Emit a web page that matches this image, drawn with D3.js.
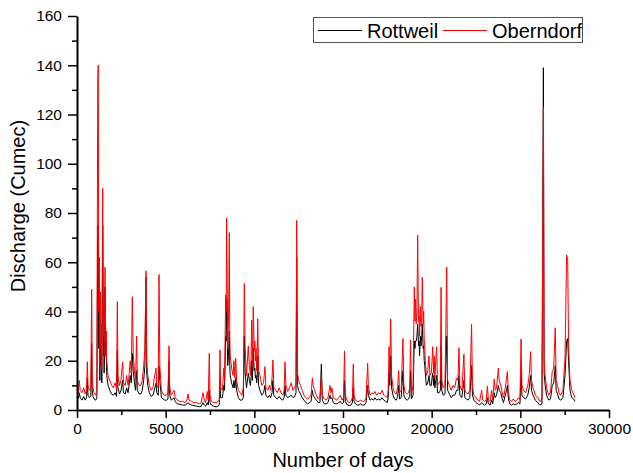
<!DOCTYPE html>
<html>
<head>
<meta charset="utf-8">
<title>Discharge</title>
<script src="https://cdn.jsdelivr.net/npm/d3@7"></script>
<style>
	body { margin: 0; background: #fff; }
	text { font-family: "Liberation Sans", Arial, sans-serif; fill: #000; }
	.axis path, .axis line { stroke: #000; }
</style>
</head>
<body>
<svg width="633" height="473"></svg>
<script>
// day index of each reading
var days = [
	0,60,130,180,280,380,460,540,583,620,
	700,780,827,860,900,960,1050,1120,1170,1200,
	1230,1290,1340,1400,1450,1490,1530,1580,1620,1680,
	1750,1850,1950,2050,2150,2230,2275,2310,2400,2480,
	2575,2620,2720,2800,2880,2935,3000,3060,3120,3170,
	3240,3300,3365,3400,3500,3600,3680,3760,3830,3890,
	3930,3990,4080,4180,4280,4360,4455,4500,4580,4625,
	4670,4760,4850,4950,5050,5130,5190,5230,5320,5470,
	5540,5650,5800,5950,6100,6200,6260,6320,6450,6600,
	6750,6900,7000,7100,7180,7250,7350,7400,7460,7500,
	7580,7700,7850,7950,8020,8065,8100,8200,8280,8320,
	8385,8440,8500,8590,8640,8720,8800,8850,8900,8950,
	9000,9100,9200,9300,9380,9435,9480,9560,9660,9720,
	9780,9850,9890,9940,9990,10060,10130,10190,10240,10320,
	10420,10520,10600,10650,10760,10850,10920,11000,11050,11100,
	11200,11300,11400,11500,11600,11680,11730,11780,11880,11980,
	12080,12180,12280,12350,12390,12430,12500,12600,12700,12800,
	12900,13000,13100,13200,13270,13320,13400,13500,13600,13700,
	13780,13830,13950,14050,14150,14270,14320,14380,14450,14550,
	14650,14750,14850,14950,15030,15085,15130,15250,15350,15450,
	15530,15580,15620,15700,15800,15900,16000,16100,16200,16300,
	16390,16430,16520,16620,16720,16800,16900,17000,17100,17200,
	17300,17400,17500,17550,17595,17640,17690,17740,17820,17900,
	18000,18080,18140,18190,18280,18380,18430,18520,18620,18700,
	18760,18810,18860,18950,19020,19060,19130,19210,19260,19320,
	19400,19470,19520,19580,19640,19700,19780,19850,19900,19980,
	20060,20110,20180,20280,20330,20420,20490,20530,20570,20650,
	20750,20850,20900,21000,21100,21200,21300,21400,21480,21540,
	21590,21700,21820,21870,21950,22050,22150,22250,22300,22380,
	22500,22600,22700,22820,22880,22980,23080,23140,23200,23300,
	23380,23440,23530,23580,23660,23760,23810,23900,23980,24050,
	24150,24220,24270,24320,24400,24500,24600,24700,24800,24900,
	24980,25040,25090,25180,25300,25420,25500,25580,25630,25720,
	25850,25980,26100,26220,26300,26340,26400,26480,26600,26700,
	26800,26880,26970,27020,27100,27180,27280,27400,27520,27610,
	27670,27720,27800,27900,28000,28080
];

// Rottweil discharge (black)
var rottweil = [
	5,4.5,7,5,4,5.5,4,5,13,6,
	5,5.5,27,8,5.5,4.5,4,5,75,64,
	25,12,18,11,75,22,15,50,22,14,
	10,8,6.5,6,7,5.5,24,9,6.5,8,
	12,7,6.5,9,7,10,14,11,23,16,
	11,8,16,8,6.5,6.5,8,12,18,54,
	15,10,7,5.5,6,8,11,7,6,18,
	12,5,4.5,4,4,4.5,20,6,4,5,
	3.5,2.5,2.3,2,2,2.5,3,2.5,2,1.8,
	1.5,1.3,1.5,3,2,1.5,3,2,8,3,
	2,1.5,1.3,1.5,2,10,5,5,10,8,
	30,45,18,32,14,11,9,12,9,13,
	8,5,4,4,5,30,15,9,15,12,
	10,20,12,25,16,13,11,22,10,8,
	6,7,10,6,5,6,5,7,12,6,
	5,4.5,5.5,4.5,4,5,10,6,5,5.5,
	6,5,5.5,7,62,10,8,6.5,5,4,
	3,2.5,3,3.5,8,6,5,4,3,3,
	18.7,4,2.5,2.5,3,6,4.5,5,3,2.5,
	2.5,3,3.5,2.5,3,12,3.5,2,1.8,2,
	3,9,3.5,2.5,2,2,2.5,2,2,3,
	10,6,4,4.5,4,5,4,4.5,4,5,
	4,3.5,3,5,15,10,22,9,6,4.5,
	4,5.5,10,4.5,5,16,6,4.5,4,4.5,
	5.5,16,4.5,6,28,25,28,35,26,22,
	26,35,25,20,15,10,11,14,10,10,
	15,10,9,14,7,7,8,26,8,6,
	6.5,30,8,6.5,5,6,6,8,8,14,
	6,5,12,5,4.5,4,5,18,6,4,
	3,2.5,2,3,2.5,2,2.5,5,2.5,2,
	4,2.5,7,5,6,10,8,7,4.5,3,
	6,8,10,5,2.5,2,2.5,2,2.5,3,
	2.5,16,6,5,4.5,6,9,14,8,6,
	4,3,2,2.5,139,15,10,6,4,4.5,
	10,11,18,8,6.5,4.5,4,5,14,28,
	29,20,8,5,4.5,3.5
];

// Oberndorf discharge (red)
var oberndorf = [
	8,7,12,8,7,9,6.5,8,19.6,10,
	8,9,49,14,9,7,6,8,135,140,
	40,18,25,16,90,30,22,58,28,20,
	14,12,10,9,11,8.5,44,14,10,12,
	19.5,11,10,14,10,14,20,15,46,23,
	16,12,30,12,10,10,12,18,25,56.5,
	20,14,10,8,9,13,17,10,9,55,
	18,8,6.5,6,6,7,26,9,6,8,
	5,4,3.5,3.5,3,4,6.5,4,3.5,3,
	3,2.5,3,7,4,3,7.5,4,23,6,
	3.5,3,3,3.5,4,24.4,9,8,17,12,
	46.7,78,25,72,22,17,14,20,13,21,
	12,8,7,6,9,51.4,25,14,26,18,
	14,36.5,18,42,24,20,16,37,16,14,
	10,11,17.6,9,8,10,8,13,20.3,9,
	8,7,9,7,6,8,19.5,10,7.5,9,
	11,8,9,11,77,15,12,10,8,6,
	5,4.5,5,6,13,10,8,6,4.5,5,
	14,6,4.5,4,5,10,7,9,5,4.5,
	4,5,6,4,5,24,6,3.5,3,3.5,
	5,18.7,6,4,3.5,3.5,4,3.5,3.5,5,
	19,10,6,7,6.5,7.5,6,7,6.5,8,
	6,5.5,5,8,25.7,15,37,14,9,7,
	6.5,9,16,7,8,29,10,7,6.5,7,
	9,28.4,7,10,50,36,35,71,36,30,
	34,54,35,28,20,14,16,22,14,15,
	25.7,15,13,25.7,10,11,12,49.8,12,9,
	10,58,12,10,8,10,9,13,12,25.3,
	10,8,22.7,8,7,6.5,8,34.8,10,6,
	5,4,3.5,8,4,3.5,4,9.7,4,3.5,
	8,4,12.6,8,9,17,12,10,7,5,
	9,13,15.6,8,4,3.5,4.5,3.5,4,5,
	4,28.8,10,8,7,10,14,23.7,12,9,
	6,5,3.5,4,123,20,14,9,6,7,
	15.6,17,33.4,12,10,7,6,8,21,63,
	61,27,12,8,6.5,5
];

// extra readings inside the busy wet spells
var extraDays      = [1260,1320,1370,1510,1550,1650, 8410,8470,8540,8615, 9820,9915,10030,10100,10160, 19090,19170,19240,19290,19360,19440,19550,19610, 20020,20140,20230];
var extraRottweil  = [40,30,24,30,25,22, 28,32,22,18, 14,18,17,14,13, 28,30,30,28,30,30,26,18, 13,14,12];
var extraOberndorf = [62,48,35,40,35,32, 40,50,35,30, 22,28,28,25,22, 45,40,48,38,42,38,40,26, 20,22,20];

var yMajor = [0, 20, 40, 60, 80, 100, 120, 140, 160];
var xMajor = [0, 5000, 10000, 15000, 20000, 25000, 30000];
var seriesNames = ["Rottweil", "Oberndorf"];
var seriesColors = ["#000000", "#ff0000"];

if (days.length !== rottweil.length || days.length !== oberndorf.length)
	console.error("length mismatch", days.length, rottweil.length, oberndorf.length);

function toPoints(dayList, vals, exDays, exVals) {
	var pts = dayList.map(function(d, k) { return [d, vals[k]]; })
		.concat(exDays.map(function(d, k) { return [d, exVals[k]]; }));
	return pts.sort(function(a, b) { return a[0] - b[0]; });
}

var svg = d3.select("svg");

var x = d3.scaleLinear().domain([0, 30000]).range([77, 609]);
var y = d3.scaleLinear().domain([0, 160]).range([410, 16]);

// lines, black first, red on top
var line = d3.line()
	.x(function(d) { return x(d[0]); })
	.y(function(d) { return y(d[1]); });

var series = [
	toPoints(days, rottweil, extraDays, extraRottweil),
	toPoints(days, oberndorf, extraDays, extraOberndorf)
];

series.forEach(function(pts, i) {
	svg.append("path")
		.datum(pts)
		.attr("d", line)
		.attr("fill", "none")
		.attr("stroke", seriesColors[i])
		.attr("stroke-width", 1)
		.attr("stroke-linejoin", "round");
});

// minor ticks
svg.append("g")
	.attr("class", "axis")
	.attr("transform", "translate(77,0)")
	.call(d3.axisLeft(y).tickValues(d3.range(10, 160, 20)).tickSize(5).tickFormat(""))
	.call(function(g) { g.select(".domain").remove(); g.selectAll("line").attr("stroke-width", 1.5); });

svg.append("g")
	.attr("class", "axis")
	.attr("transform", "translate(0,410)")
	.call(d3.axisBottom(x).tickValues(d3.range(2500, 30000, 5000)).tickSize(5).tickFormat(""))
	.call(function(g) { g.select(".domain").remove(); g.selectAll("line").attr("stroke-width", 1.5); });

// major axes
var yAxis = svg.append("g")
	.attr("class", "axis")
	.attr("transform", "translate(77,0)")
	.call(d3.axisLeft(y).tickValues(yMajor).tickSize(9).tickSizeOuter(0).tickPadding(6));

var xAxis = svg.append("g")
	.attr("class", "axis")
	.attr("transform", "translate(0,410)")
	.call(d3.axisBottom(x).tickValues(xMajor).tickSize(8).tickSizeOuter(0).tickPadding(5).tickFormat(d3.format("d")));

[yAxis, xAxis].forEach(function(g) {
	g.select(".domain").attr("stroke-width", 2);
	g.selectAll("line").attr("stroke-width", 1.5);
	g.selectAll("text").attr("font-size", 15.5).attr("font-family", "Liberation Sans, Arial, sans-serif").attr("fill", "#000");
});

// axis titles
svg.append("text")
	.attr("transform", "translate(25,206) rotate(-90)")
	.attr("text-anchor", "middle")
	.attr("font-size", 20)
	.text("Discharge (Cumec)");

svg.append("text")
	.attr("x", 343)
	.attr("y", 467)
	.attr("text-anchor", "middle")
	.attr("font-size", 20)
	.text("Number of days");

// legend
var legend = svg.append("g");
legend.append("rect")
	.attr("x", 313.5).attr("y", 17.5)
	.attr("width", 269).attr("height", 25)
	.attr("fill", "#fff")
	.attr("stroke", "#555")
	.attr("stroke-width", 1);

var legX = [318, 443];
seriesNames.forEach(function(name, i) {
	legend.append("line")
		.attr("x1", legX[i]).attr("x2", legX[i] + 44)
		.attr("y1", 30.5).attr("y2", 30.5)
		.attr("stroke", seriesColors[i])
		.attr("stroke-width", 1);
	legend.append("text")
		.attr("x", legX[i] + 49)
		.attr("y", 37.5)
		.attr("font-size", 20)
		.text(name);
});
</script>
</body>
</html>
